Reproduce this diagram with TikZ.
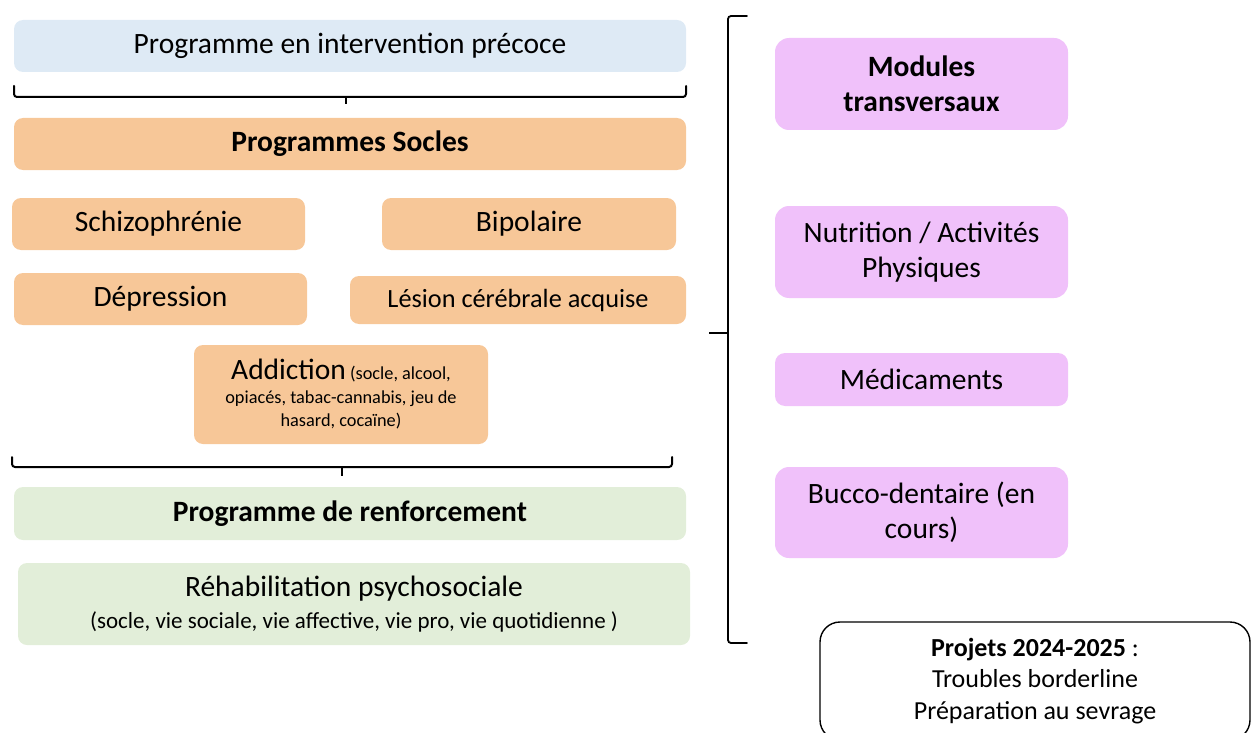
\documentclass[tikz,border=0pt]{standalone}
\usepackage{fontspec}
\setmainfont{Carlito}
\definecolor{cblue}{HTML}{DEEAF5}
\definecolor{corange}{HTML}{F7C798}
\definecolor{cgreen}{HTML}{E2EED9}
\definecolor{cpink}{HTML}{F0C1FA}
\begin{document}
\begin{tikzpicture}[x=1pt,y=-1pt,
  bx/.style={rounded corners=9pt, inner sep=0pt, align=center, text=black},
  pk/.style={bx, rounded corners=14pt, fill=cpink, minimum width=293},
  brace/.style={line width=2pt, rounded corners=3pt, line cap=round},
  big/.style={font=\fontsize{29.5}{35}\selectfont}]
\clip (0,0) rectangle (1253,733);
\useasboundingbox (0,0) rectangle (1253,733);
% left column
\node[bx, big, fill=cblue, minimum width=672, minimum height=52] (pip) at (350,46) {Programme en intervention précoce};
\node[bx, big, fill=corange, minimum width=672, minimum height=52] (socles) at (350,144) {\bfseries Programmes Socles};
\node[bx, big, fill=corange, minimum width=293, minimum height=52] (schizo) at (158.5,224) {Schizophrénie};
\node[bx, big, fill=corange, minimum width=294, minimum height=52] (bip) at (529,224) {Bipolaire};
\node[bx, big, fill=corange, minimum width=293, minimum height=52] (dep) at (160.5,299) {Dépression};
\node[bx, fill=corange, minimum width=336, minimum height=48, font=\fontsize{26.3}{30}\selectfont] (lesion) at (518,300) {Lésion cérébrale acquise};
\node[bx, fill=corange, minimum width=294, minimum height=99, font=\fontsize{18.3}{23.5}\selectfont] (addic) at (341,394.5) {{\fontsize{29.5}{30}\selectfont Addiction} (socle, alcool,\\opiacés, tabac-cannabis, jeu de\\hasard, cocaïne)};
\node[bx, big, fill=cgreen, minimum width=672, minimum height=53] (renf) at (350,513.5) {\bfseries Programme de renforcement};
\node[bx, fill=cgreen, minimum width=672, minimum height=82, font=\fontsize{23}{32}\selectfont] (rehab) at (354,604) {{\fontsize{29.5}{32}\selectfont Réhabilitation psychosociale}\\(socle, vie sociale, vie affective, vie pro, vie quotidienne )};
% braces
\coordinate (b1l) at (14,86); \coordinate (b1r) at (686,86);
\coordinate (b1m) at (346,97); \coordinate (b1t) at (346,104);
\draw[brace] (b1l) -- (14,97) -- (686,97) -- (b1r);
\draw[line width=2pt] (b1m) -- (b1t);
\coordinate (b2l) at (12,457); \coordinate (b2r) at (672,457);
\coordinate (b2m) at (342,467); \coordinate (b2t) at (342,476);
\draw[brace] (b2l) -- (12,467) -- (672,467) -- (b2r);
\draw[line width=2pt] (b2m) -- (b2t);
\coordinate (rbt) at (747,16); \coordinate (rbb) at (747,643);
\coordinate (rbm) at (728,333); \coordinate (rbtip) at (709,333);
\draw[brace, line width=1.8pt] (rbt) -- (728,16) -- (728,643) -- (rbb);
\draw[line width=1.8pt] (rbm) -- (rbtip);
% right column
\node[pk, big, minimum height=92] (mod) at (921.5,84) {\bfseries Modules\\\bfseries transversaux};
\node[pk, big, minimum height=92] (nutri) at (921.5,252) {Nutrition / Activités\\Physiques};
\node[pk, big, minimum height=53, rounded corners=10pt] (medic) at (921.5,379.5) {Médicaments};
\node[pk, big, minimum height=91] (bucco) at (921.5,512.5) {Bucco-dentaire (en\\cours)};
\node[bx, draw=black, line width=1.4pt, rounded corners=20pt, minimum width=430, minimum height=118, font=\fontsize{26}{31.5}\selectfont] (proj) at (1035,681) {\textbf{Projets 2024-2025} :\\Troubles borderline\\Préparation au sevrage};
\end{tikzpicture}
\end{document}
